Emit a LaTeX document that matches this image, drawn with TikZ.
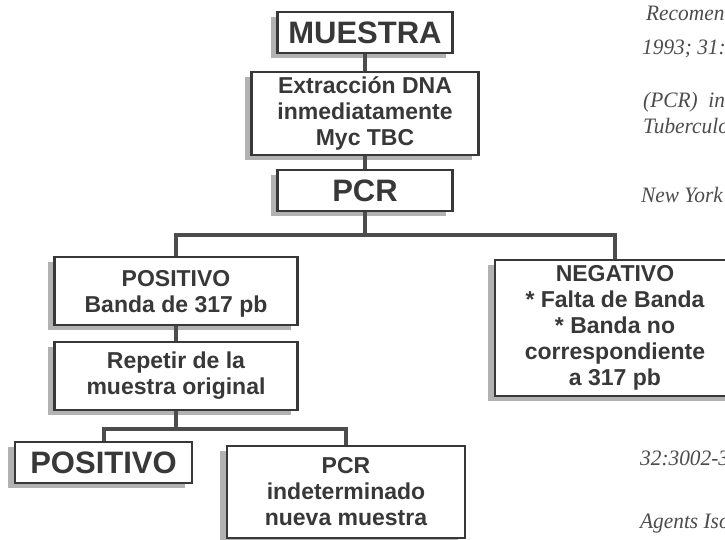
\documentclass[tikz,border=0pt]{standalone}
\usepackage{fontspec}
\setmainfont{Liberation Sans}
\newfontfamily\refit{Liberation Serif}[FakeStretch=0.97]
\usetikzlibrary{shadows, positioning}

\definecolor{ink}{HTML}{383838}

\begin{document}
\begin{tikzpicture}[x=1pt, y=-1pt,
  box/.style={draw=ink, line width=2.5pt, fill=white, text=ink, align=center, inner sep=0pt,
    font=\bfseries\fontsize{23}{26}\selectfont,
    general shadow={shadow xshift=-7pt, shadow yshift=-5pt, fill=black!30}},
  bigbox/.style={box, font=\bfseries\fontsize{31}{33}\selectfont},
  link/.style={draw=ink!90, line width=4pt},
  refs/.style={anchor=base west, inner sep=0pt, text=ink!90, font=\refit\itshape\fontsize{22}{24}\selectfont}]
\useasboundingbox[fill=white] (0,0) rectangle (725,540);

% Main column
\node[bigbox, minimum width=175pt, minimum height=41pt] (muestra) at (365,32.5) {MUESTRA};
\node[box, minimum width=227pt, minimum height=83pt] (extr) at (365,113.5) {Extracción DNA\\inmediatamente\\Myc TBC};
\node[bigbox, minimum width=175pt, minimum height=41pt] (pcr) at (365,190.5) {PCR};

% Results
\node[box, minimum width=243pt, minimum height=68pt, text depth=0pt] (pos) at (176,291) {POSITIVO\\Banda de 317 pb};
\node[box, minimum width=240pt, minimum height=136pt] (neg) at (615,328) {NEGATIVO\\* Falta de Banda\\* Banda no\\correspondiente\\a 317 pb};
\node[box, minimum width=243pt, minimum height=68pt] (repetir) at (176,376) {Repetir de la\\muestra original};
\node[bigbox, minimum width=177pt, minimum height=41pt] (posfinal) at (103.5,462.5) {POSITIVO};
\node[box, minimum width=238pt, minimum height=92pt] (nueva) at (346,492) {PCR\\indeterminado\\nueva muestra};

% Connectors
\coordinate (split) at (365,235);
\coordinate (split2) at (176,429);
\draw[link] (muestra) -- (extr);
\draw[link] (extr) -- (pcr);
\draw[link] (pcr) -- (split);
\draw[link] (pos.north) |- (split) -| (neg.north);
\draw[link] (pos) -- (repetir);
\draw[link] (repetir) -- (split2);
\draw[link] (posfinal.north) |- (split2) -| (nueva.north);

% Page text on the right
\node[refs] (r1) at (646,21) {Recomenda};
\node[refs] (r2) at (642,55) {1993; 31:};
\node[refs] (r3) at (643,108) {(PCR) \ in};
\node[refs] (r4) at (643,134) {Tuberculo};
\node[refs] (r5) at (641,202) {New York};
\node[refs] (r6) at (640,465) {32:3002-3};
\node[refs] (r7) at (640,528) {Agents Iso};
\end{tikzpicture}
\end{document}
